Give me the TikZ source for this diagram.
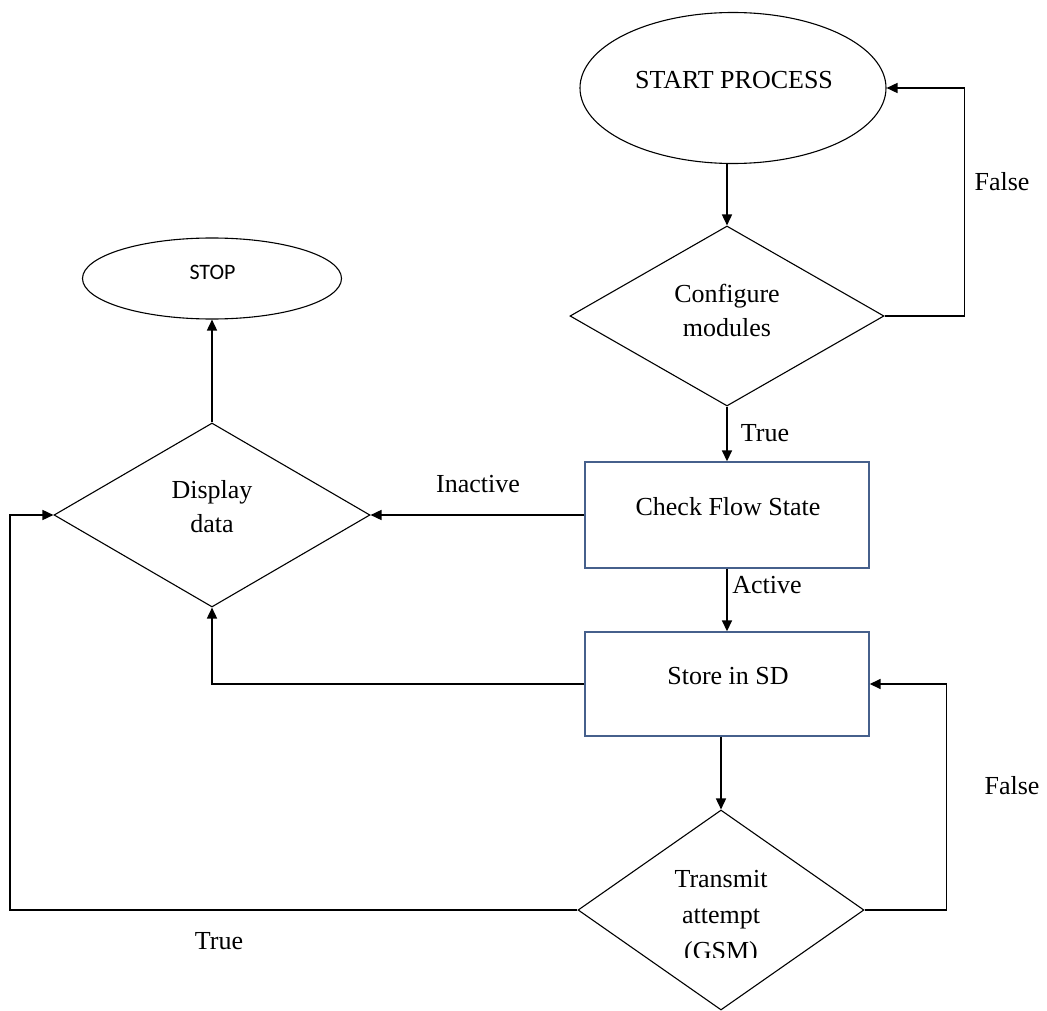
\documentclass[tikz,border=0pt]{standalone}
\usepackage{fontspec}
\setmainfont{Liberation Serif}
\newfontfamily\stopfont{Carlito}
\usetikzlibrary{shapes.geometric,arrows.meta}
\definecolor{boxblue}{RGB}{70,96,140}
\tikzset{
  conn/.style={line width=1.6pt, -{Triangle[length=11pt,width=10pt]}},
  oval/.style={ellipse, draw, line width=1.1pt, inner sep=0pt},
  decision/.style={diamond, draw, line width=1.1pt, inner sep=0pt},
  procbox/.style={rectangle, draw=boxblue, line width=1.4pt, inner sep=0pt},
  txt/.style={font=\fontsize{26}{34}\selectfont, align=center, inner sep=0pt},
  lbl/.style={font=\fontsize{26}{30}\selectfont, inner sep=0pt}
}
\begin{document}
\begin{tikzpicture}[x=1pt,y=-1pt]
\useasboundingbox[fill=white] (0,0) rectangle (1047,1011);
% shapes
\node[oval, minimum width=306pt, minimum height=151pt] (start) at (733,88) {};
\node[txt] (starttxt) at (734,80) {START PROCESS};
\node[decision, minimum width=314pt, minimum height=180pt] (cfg) at (727,316) {};
\node[txt] (cfgtxt) at (727,310) {Configure\\modules};
\node[procbox, minimum width=284pt, minimum height=106pt] (check) at (727,515) {};
\node[txt] (checktxt) at (728,507) {Check Flow State};
\node[procbox, minimum width=284pt, minimum height=104pt] (store) at (727,684) {};
\node[txt] (storetxt) at (728,676) {Store in SD};
\node[decision, minimum width=316pt, minimum height=184pt] (disp) at (212,515) {};
\node[txt] (disptxt) at (212,507) {Display\\data};
\node[oval, minimum width=259pt, minimum height=81pt] (stop) at (212,278.5) {};
\node[font=\stopfont\fontsize{22}{26}\selectfont, inner sep=0pt] (stoptxt) at (212.5,272) {STOP};
\node[decision, minimum width=286pt, minimum height=200pt] (trans) at (721,910) {};
\begin{scope}
\clip (600,850) rectangle (840,957);
\node[txt, font=\fontsize{26}{36}\selectfont] (transtxt) at (721,918) {Transmit\\attempt\\(GSM)};
\end{scope}
% connectors
\draw[conn] (cfg.north |- start.south) -- (cfg.north);
\draw[conn] (cfg.east) -- ++(80,0) |- (start.east);
\draw[conn] (cfg.south) -- (check.north);
\draw[conn] (check.west) -- (disp.east);
\draw[conn] (check.south) -- (store.north);
\draw[conn] (store.west) -| (disp.south);
\draw[conn] (disp.north) -- (stop.south);
\draw[conn] (trans.north |- store.south) -- (trans.north);
\draw[conn] (trans.east) -- ++(82,0) |- (store.east);
\coordinate (tl) at (10,910);
\draw[conn] (trans.west) -- (tl) |- (disp.west);
% labels
\node[lbl] (lfalse1) at (1002,182) {False};
\node[lbl] (ltrue1) at (765,433) {True};
\node[lbl] (linact) at (478,484) {Inactive};
\node[lbl] (lact) at (767,585) {Active};
\node[lbl] (lfalse2) at (1012,786) {False};
\node[lbl] (ltrue2) at (219,941) {True};
\end{tikzpicture}
\end{document}
